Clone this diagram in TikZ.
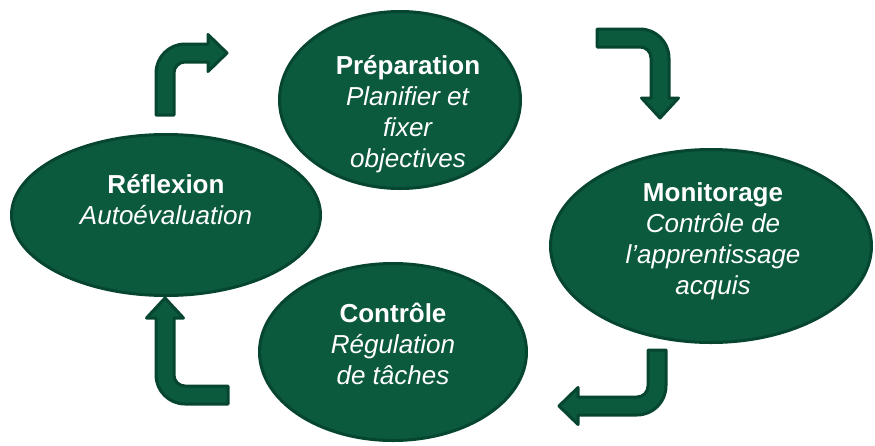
\documentclass[tikz,border=0pt]{standalone}
\usepackage{fontspec}
\setmainfont{Liberation Sans}
\usetikzlibrary{shapes.geometric}
\definecolor{leaf}{HTML}{0B5A3E}
\definecolor{leafdark}{HTML}{06452F}

\tikzset{
  phase/.style={ellipse, draw=leafdark, fill=leaf, line width=3pt, inner sep=0pt},
  phasetext/.style={text=white, align=center, font=\fontsize{26}{31}\selectfont},
  turnarrow/.style={fill=leaf, draw=leafdark, line width=3pt, line join=round},
  % bent block arrow: stem of length #1 going up, turning right,
  % head base at #2 from the stem axis, head length #3
  pics/bentarrow/.style n args={3}{code={
    \path[turnarrow] (-9,0) -- (-9,-#1)
      arc[start angle=180, end angle=270, radius=29]
      -- (#2,{-#1-29}) -- (#2,{-#1-38.5}) -- ({#2+#3},{-#1-20})
      -- (#2,{-#1-1.5}) -- (#2,{-#1-11}) -- (20,{-#1-11})
      arc[start angle=270, end angle=180, radius=11]
      -- (9,0) -- cycle;
  }}
}

\begin{document}
\begin{tikzpicture}[x=1pt, y=-1pt]
  \useasboundingbox (0,0) rectangle (875,445);

  % the four phases
  \node[phase, minimum width=241pt, minimum height=177pt] (prep) at (400,100) {};
  \node[phase, minimum width=309pt, minimum height=161pt] (refl) at (166,215) {};
  \node[phase, minimum width=321pt, minimum height=193pt] (moni) at (711,246) {};
  \node[phase, minimum width=267pt, minimum height=177pt] (ctrl) at (393,352) {};

  \node[phasetext] (prep-text) at (408,114)
    {\textbf{Préparation}\\\textit{Planifier et}\\\textit{fixer}\\\textit{objectives}};
  \node[phasetext] (refl-text) at (166,200)
    {\textbf{Réflexion}\\\textit{Autoévaluation}};
  \node[phasetext] (moni-text) at (713,241)
    {\textbf{Monitorage}\\\textit{Contrôle de}\\\textit{l’apprentissage}\\\textit{acquis}};
  \node[phasetext] (ctrl-text) at (393,344)
    {\textbf{Contrôle}\\\textit{Régulation}\\\textit{de tâches}};

  % cycle arrows between the phases
  \pic at (165,115) {bentarrow={42}{43}{19}};
  \pic[rotate=-90] at (597,38) {bentarrow={43}{60}{20}};
  \pic[rotate=180] at (657,350) {bentarrow={36}{79}{19}};
  \pic[rotate=90] at (228,395) {bentarrow={43}{77}{20}};
\end{tikzpicture}
\end{document}
